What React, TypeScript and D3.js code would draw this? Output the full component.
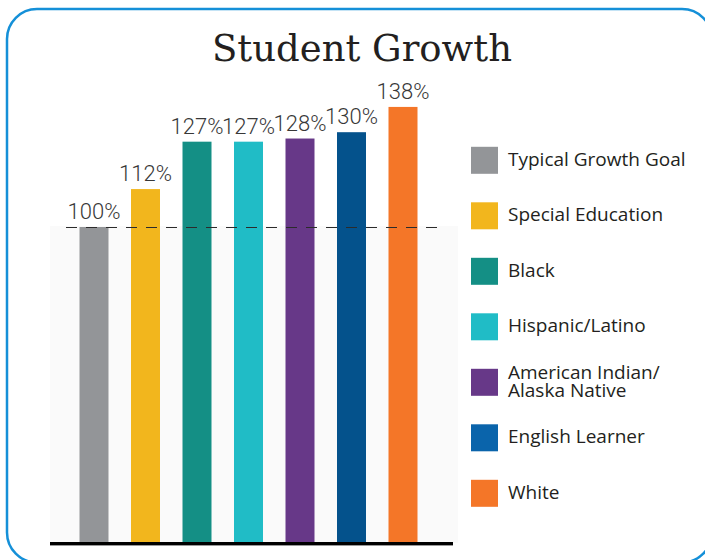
import React from "react";
import * as d3 from "d3";

const categories = [
  "Typical Growth Goal",
  "Special Education",
  "Black",
  "Hispanic/Latino",
  "American Indian/ Alaska Native",
  "English Learner",
  "White",
];
const values = [100, 112, 127, 127, 128, 130, 138];
const barColors = ["#939598", "#f2b61d", "#148f85", "#20bcc6", "#673888", "#04528c", "#f47628"];
const legendColors = ["#939598", "#f2b61d", "#148f85", "#20bcc6", "#673888", "#0a64ab", "#f47628"];
const legendLines = [
  ["Typical Growth Goal"],
  ["Special Education"],
  ["Black"],
  ["Hispanic/Latino"],
  ["American Indian/", "Alaska Native"],
  ["English Learner"],
  ["White"],
];
const goalValue = 100;
const title = "Student Growth";

export default function App() {
  const W = 705, H = 560;
  const baseY = 543;
  const y = d3.scaleLinear().domain([0, 100]).range([baseY, 227]);
  const x = d3.scalePoint<string>().domain(categories).range([94, 403]);
  const bw = 29;
  const legY = d3.scalePoint<string>().domain(categories).range([160.3, 493.3]);
  const sq = 27;
  const lh = 18.5;

  return (
    <svg width={W} height={H} style={{ position: "absolute", left: 0, top: 0 }}>
      <rect x={0} y={0} width={W} height={H} fill="#ffffff" />
      <rect x={7} y={9} width={705} height={553.5} rx={30} ry={30} fill="none" stroke="#1590d8" strokeWidth={2.5} />
      <text x={362} y={61} textAnchor="middle" fontFamily="DejaVu Serif" fontSize={37} fill="#231f20">{title}</text>
      <rect x={50} y={y(goalValue) - 1} width={408} height={baseY - y(goalValue) + 1} fill="#fafafa" />
      {categories.map((c, i) => (
        <rect key={c} x={(x(c) as number) - bw / 2} y={y(values[i])} width={bw} height={baseY - y(values[i])} fill={barColors[i]} />
      ))}
      <line x1={66} x2={441} y1={y(goalValue) + 0.5} y2={y(goalValue) + 0.5} stroke="#2b2b2b" strokeWidth={1.2} strokeDasharray="11 9" />
      {categories.map((c, i) => (
        <text key={c} x={x(c) as number} y={y(values[i]) - 8} textAnchor="middle" fontFamily="Roboto" fontWeight={300} fontSize={22} fill="#383838">{values[i]}%</text>
      ))}
      <line x1={50} x2={453} y1={545.5} y2={545.5} stroke="#999" strokeWidth={1} />
      <line x1={50} x2={453} y1={543.5} y2={543.5} stroke="#000" strokeWidth={3} />
      {categories.map((c, i) => {
        const cy = legY(c) as number;
        const lines = legendLines[i];
        const y0 = cy + 5.5 - ((lines.length - 1) / 2) * lh;
        return (
          <g key={c}>
            <rect x={471} y={cy - sq / 2} width={sq} height={sq} fill={legendColors[i]} />
            <text x={508} y={y0} fontFamily="Open Sans" fontSize={19} fill="#231f20">
              {lines.map((l, j) => (
                <tspan key={j} x={508} dy={j === 0 ? 0 : lh}>{l}</tspan>
              ))}
            </text>
          </g>
        );
      })}
    </svg>
  );
}
